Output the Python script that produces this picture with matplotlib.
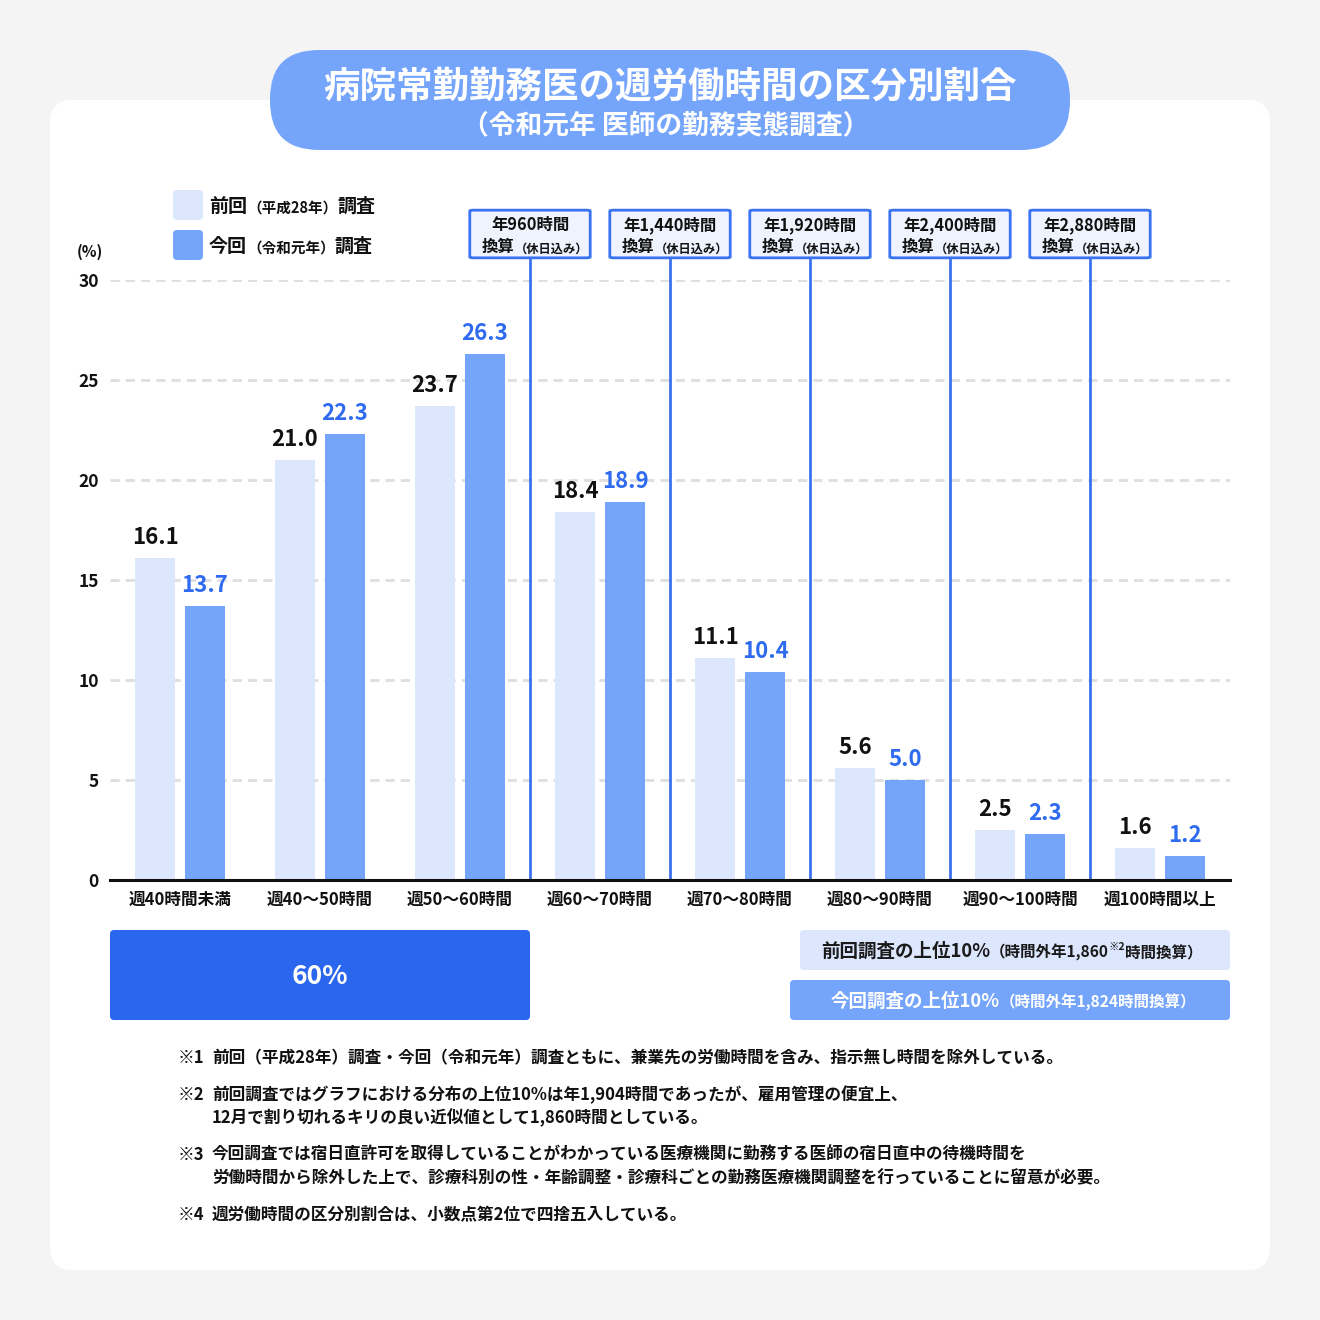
import matplotlib
matplotlib.use("Agg")
import matplotlib.pyplot as plt
from matplotlib.patches import FancyBboxPatch
import numpy as np

plt.rcParams['font.family'] = ['Noto Sans CJK JP', 'DejaVu Sans']

# ---- data ----
categories = ["週40時間未満", "週40～50時間", "週50～60時間", "週60～70時間",
              "週70～80時間", "週80～90時間", "週90～100時間", "週100時間以上"]
prev_values = [16.1, 21.0, 23.7, 18.4, 11.1, 5.6, 2.5, 1.6]
curr_values = [13.7, 22.3, 26.3, 18.9, 10.4, 5.0, 2.3, 1.2]
yticks = [0, 5, 10, 15, 20, 25, 30]
threshold_labels = ["年960時間", "年1,440時間", "年1,920時間", "年2,400時間", "年2,880時間"]
threshold_pos = [2.5, 3.5, 4.5, 5.5, 6.5]

title = "病院常勤勤務医の週労働時間の区分別割合"
subtitle = "（令和元年 医師の勤務実態調査）"
footnotes = [
    ("※1", ["前回（平成28年）調査・今回（令和元年）調査ともに、兼業先の労働時間を含み、指示無し時間を除外している。"]),
    ("※2", ["前回調査ではグラフにおける分布の上位10%は年1,904時間であったが、雇用管理の便宜上、",
            "12月で割り切れるキリの良い近似値として1,860時間としている。"]),
    ("※3", ["今回調査では宿日直許可を取得していることがわかっている医療機関に勤務する医師の宿日直中の待機時間を",
            "労働時間から除外した上で、診療科別の性・年齢調整・診療科ごとの勤務医療機関調整を行っていることに留意が必要。"]),
    ("※4", ["週労働時間の区分別割合は、小数点第2位で四捨五入している。"]),
]

C_PREV = "#dce6fd"
C_CURR = "#75a5fb"
C_LABEL = "#2f6bf0"
C_DARK = "#2b66ee"
C_LINE = "#3a72ef"
C_TEXT = "#111111"

W = H = 1320
fig = plt.figure(figsize=(W / 100, H / 100), dpi=100)
fig.patch.set_facecolor("#f5f4f5")

# overlay axes in pixel coordinates (y downward)
bg = fig.add_axes([0, 0, 1, 1])
bg.set_xlim(0, W)
bg.set_ylim(H, 0)
bg.axis("off")
bg.set_zorder(0)


def rbox(ax, x0, y0, x1, y1, color, r, ec="none", lw=0, z=1):
    p = FancyBboxPatch((x0 + r, y0 + r), (x1 - x0) - 2 * r, (y1 - y0) - 2 * r,
                       boxstyle=f"round,pad={r}", fc=color, ec=ec, lw=lw, zorder=z)
    ax.add_patch(p)
    return p


def chain(ax, x, y, parts, color=C_TEXT, z=5):
    """parts: list of (text, size, raise_frac) drawn left to right."""
    first = parts[0]
    t = ax.text(x, y, first[0], fontsize=first[1], fontweight="bold",
                color=color, ha="left", va="baseline", zorder=z)
    base = t
    for txt, sz, rise in parts[1:]:
        t = ax.annotate(txt, xy=(1, rise), xycoords=(t, base),
                        fontsize=sz, fontweight="bold",
                        color=color, ha="left", va="bottom", zorder=z,
                        annotation_clip=False)
    return t


# white panel
rbox(bg, 50, 100, 1270, 1270, "white", 22)
# title pill
rbox(bg, 270, 50, 1070, 150, C_CURR, 49, z=2)
bg.text(670, 87, title, color="white", fontsize=26.3, fontweight="bold",
        ha="center", va="center", zorder=3)
bg.text(666, 125, subtitle, color="white", fontsize=19.3, fontweight="bold",
        ha="center", va="center", zorder=3)

# legend
rbox(bg, 173, 190, 203, 220, C_PREV, 4, z=2)
rbox(bg, 173, 230, 203, 260, C_CURR, 4, z=2)
chain(bg, 209, 212, [("前回", 13.7), ("（平成28年）", 10.5, 0), ("調査", 13.7, 0)])
chain(bg, 209, 252, [("今回", 13.7), ("（令和元年）", 10.5, 0), ("調査", 13.7, 0)])
bg.text(90, 252, "(%)", fontsize=11, fontweight="bold", ha="center", va="center", color=C_TEXT)

# ---- main chart ----
ax = fig.add_axes([110 / W, (H - 880) / H, 1120 / W, 600 / H])
ax.set_zorder(2)
ax.patch.set_alpha(0)
x = np.arange(len(categories))
bw = 40 / 140
off = 25 / 140
ax.bar(x - off, prev_values, bw, color=C_PREV, zorder=3)
ax.bar(x + off, curr_values, bw, color=C_CURR, zorder=3)
ax.set_xlim(-0.5, len(categories) - 0.5)
ax.set_ylim(0, 30)
ax.set_yticks(yticks)
ax.set_yticklabels([str(v) for v in yticks], fontsize=12.5, fontweight="bold", color=C_TEXT)
ax.set_xticks(x)
ax.set_xticklabels(categories, fontsize=12, fontweight="bold", color=C_TEXT)
ax.tick_params(axis="both", length=0)
ax.tick_params(axis="y", pad=8)
ax.tick_params(axis="x", pad=8)
for s in ["top", "right", "left"]:
    ax.spines[s].set_visible(False)
ax.spines["bottom"].set_linewidth(2.2)
ax.spines["bottom"].set_color("#111111")
ax.spines["bottom"].set_zorder(6)
for v in yticks[1:]:
    ax.axhline(v, color="#dedede", lw=2, ls=(0, (3.3, 2.2)), zorder=1)

for i, (p, c) in enumerate(zip(prev_values, curr_values)):
    ax.text(i - off, p + 0.45, f"{p:.1f}", ha="center", va="bottom", fontsize=16,
            fontweight="bold", color=C_TEXT, zorder=5)
    ax.text(i + off, c + 0.45, f"{c:.1f}", ha="center", va="bottom", fontsize=16,
            fontweight="bold", color=C_LABEL, zorder=5)

# threshold lines and boxes
for pos, lab in zip(threshold_pos, threshold_labels):
    ax.plot([pos, pos], [0, 31.0], color=C_LINE, lw=2, clip_on=False, zorder=4)
    bx = FancyBboxPatch((pos - 0.40, 31.15), 0.80, 2.3,
                        boxstyle="round,pad=0.03,rounding_size=0.03",
                        fc="#eef3fe", ec=C_LINE, lw=2, clip_on=False, zorder=5,
                        mutation_aspect=1.4)
    ax.add_patch(bx)
    ax.text(pos, 32.75, lab, ha="center", va="center", fontsize=11.8,
            fontweight="bold", color=C_TEXT, zorder=6)
    t = ax.text(pos - 0.345, 31.4, "換算", ha="left", va="baseline", fontsize=11.8,
                fontweight="bold", color=C_TEXT, zorder=6)
    ax.annotate("（休日込み）", xy=(1, 0), xycoords=t, ha="left", va="bottom",
                fontsize=8.8, fontweight="bold", color=C_TEXT, zorder=6,
                annotation_clip=False)

# ---- bottom boxes ----
rbox(bg, 110, 930, 530, 1020, C_DARK, 4, z=2)
bg.text(320, 976, "60%", color="white", fontsize=19, fontweight="bold",
        ha="center", va="center", zorder=3)
rbox(bg, 800, 930, 1230, 970, C_PREV, 4, z=2)
rbox(bg, 790, 980, 1230, 1020, C_CURR, 4, z=2)
chain(bg, 821, 957, [("前回調査の上位10%", 13.3), ("（時間外年1,860", 11.2, 0),
                     ("※2", 7.5, 0.45), ("時間換算）", 11.2, 0)], color="#1a1a1a")
chain(bg, 831, 1007, [("今回調査の上位10%", 13.3), ("（時間外年1,824時間換算）", 11.2, 0)],
      color="white")

# ---- footnotes ----
y = 1058
for mark, lines in footnotes:
    bg.text(178, y, mark, fontsize=12, fontweight="bold", ha="left", va="center", color=C_TEXT)
    for j, ln in enumerate(lines):
        bg.text(212, y + j * 23, ln, fontsize=12, fontweight="bold", ha="left",
                va="center", color=C_TEXT)
    y += 23 * len(lines) + 14

fig.savefig("out.png", dpi=100, facecolor=fig.get_facecolor())
